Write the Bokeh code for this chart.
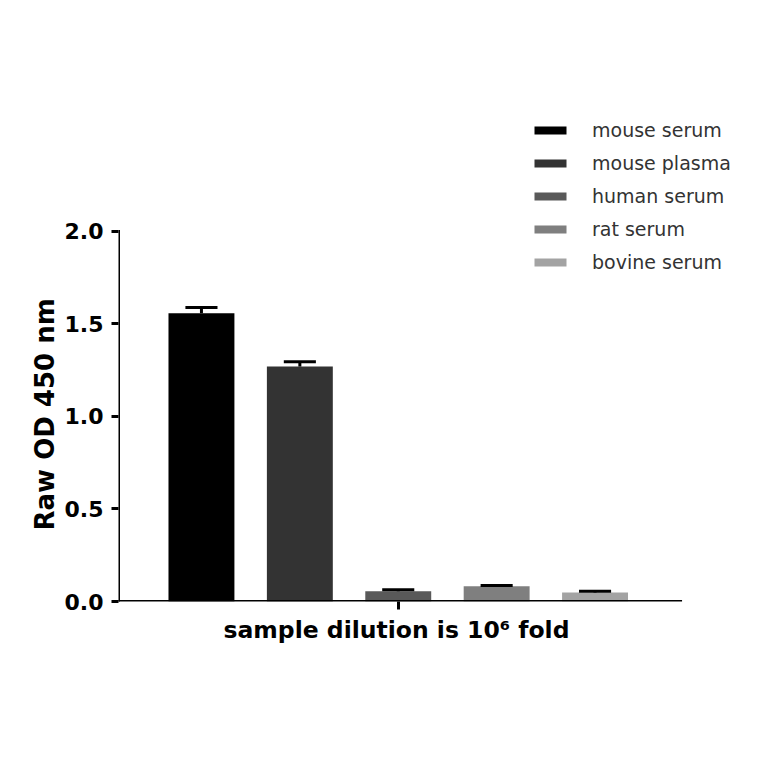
from bokeh.plotting import figure
from bokeh.models import Range1d, FixedTicker, Legend, LegendItem, ColumnDataSource, Title
from bokeh.embed import file_html
from bokeh.resources import INLINE

samples = ["mouse serum", "mouse plasma", "human serum", "rat serum", "bovine serum"]
od_values = [1.558, 1.270, 0.055, 0.083, 0.048]
od_errors = [0.031, 0.026, 0.008, 0.004, 0.008]
bar_colors = ["#000000", "#333333", "#595959", "#7f7f7f", "#a3a3a3"]
y_ticks = [0.0, 0.5, 1.0, 1.5, 2.0]
x_label = "sample dilution is 10\u2076 fold"
y_label = "Raw OD 450 nm"

xs = list(range(1, len(samples) + 1))
ups = [v + e for v, e in zip(od_values, od_errors)]
src = ColumnDataSource(dict(x=xs, top=od_values, up=ups))

X0, X_AXIS_END, X1 = 0.157, 5.869, 6.529
Y_AXIS_END, Y1 = y_ticks[-1], 2.708

W, H = 748, 748
p = figure(width=W, height=H, output_backend="svg", toolbar_location=None,
           x_range=Range1d(X0, X1), y_range=Range1d(0, Y1),
           min_border_left=118, min_border_right=3, min_border_top=100, min_border_bottom=147)
p.outline_line_color = None
p.xgrid.grid_line_color = None
p.ygrid.grid_line_color = None
p.background_fill_color = "white"

renderers = []
for i in range(len(samples)):
    r = p.vbar(x=[xs[i]], top=[od_values[i]], width=0.67, bottom=0,
               fill_color=bar_colors[i], line_color=None)
    renderers.append(r)

p.segment(x0="x", y0="top", x1="x", y1="up", source=src, line_color="black", line_width=3)
p.segment(x0=[x - 0.163 for x in xs], y0=ups, x1=[x + 0.163 for x in xs],
          y1=ups, line_color="black", line_width=3)

# axis lines limited to the data region
p.segment(x0=[X0, X0], y0=[0, 0], x1=[X0, X_AXIS_END], y1=[Y_AXIS_END, 0],
          line_color="black", line_width=3, line_cap="square")

FONT = "DejaVu Sans"

ya = p.yaxis[0]
ya.ticker = FixedTicker(ticks=y_ticks)
ya.major_label_overrides = {t: f"{t:.1f}" for t in y_ticks}
ya.major_label_text_font = FONT
ya.major_label_text_font_style = "bold"
ya.major_label_text_font_size = "22px"
ya.major_label_text_color = "black"
ya.major_label_standoff = 8
ya.axis_line_color = None
ya.major_tick_line_width = 3
ya.major_tick_out = 7
ya.major_tick_in = 0
ya.minor_tick_line_color = None

xa = p.xaxis[0]
xa.ticker = FixedTicker(ticks=[3])
xa.major_label_overrides = {3: ""}
xa.axis_line_color = None
xa.major_tick_line_width = 3
xa.major_tick_out = 8
xa.major_tick_in = 0
xa.minor_tick_line_color = None

# axis titles positioned over the 0..2 / bar region, not the whole frame
xt = Title(text=x_label, align="left", offset=105, standoff=9,
           text_font=FONT, text_font_style="bold", text_font_size="23.5px", text_color="black")
p.add_layout(xt, "below")
yt = Title(text=y_label, align="left", offset=71, standoff=4,
           text_font=FONT, text_font_style="bold", text_font_size="26px", text_color="black")
p.add_layout(yt, "left")

legend = Legend(items=[LegendItem(label=samples[i], renderers=[renderers[i]]) for i in range(len(samples))],
                location=(412, 328), orientation="vertical",
                glyph_width=40, glyph_height=10, label_height=20, spacing=11,
                label_standoff=22, padding=0, margin=0,
                border_line_color=None, background_fill_alpha=0,
                label_text_font=FONT, label_text_font_size="19px", label_text_color="#333333")
p.add_layout(legend, "center")

open("out.html", "w").write(file_html(p, INLINE))
